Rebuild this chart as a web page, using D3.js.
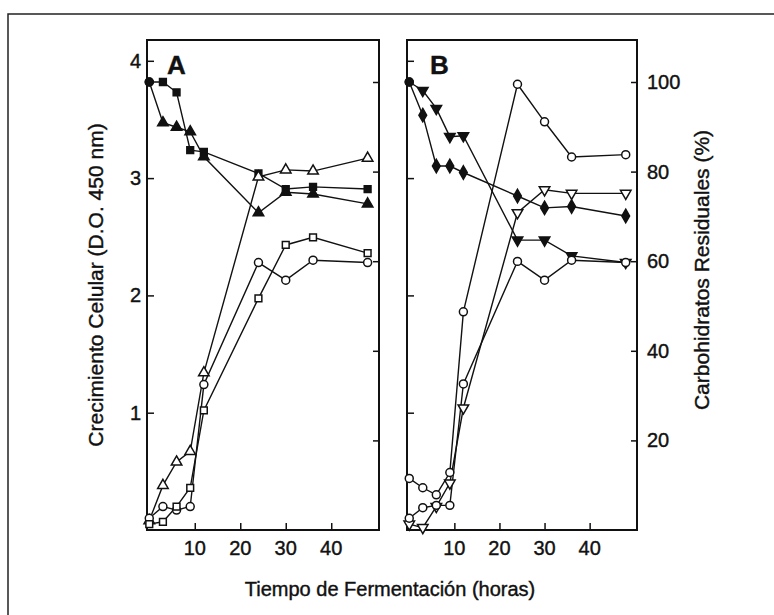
<!DOCTYPE html>
<meta charset="utf-8">
<style>
body { margin: 0; background: #fff; }
text { font-family: "Liberation Sans", Arial, sans-serif; fill: #111; stroke: #111; stroke-width: 0.4px; }
</style>
<body>
<script src="https://cdn.jsdelivr.net/npm/d3@7"></script>
<script>
var width = 774,
    height = 615;

// fermentation time (hours)
var hours = [0, 3, 6, 9, 12, 24, 30, 36, 48];

// panel A, residual carbohydrates (%), filled symbols
var aSquareFilled = [100, 100, 97.7, 84.8, 84.4, 79.6, 76.1, 76.6, 76.1];
var aTriFilled = [100, 90.9, 89.9, 88.9, 83.3, 70.8, 75.4, 75.0, 72.8];
// panel A, cell growth (OD 450 nm), open symbols
var aTriOpen = [0.08, 0.38, 0.58, 0.67, 1.34, 3.01, 3.07, 3.06, 3.17];
var aCircleOpen = [0.10, 0.20, 0.17, 0.20, 1.24, 2.28, 2.13, 2.30, 2.28];
var aSquareOpen = [0.05, 0.07, 0.20, 0.36, 1.02, 1.975, 2.43, 2.495, 2.36];

// panel B
var bTriDownFilled = [100, 98.1, 94.1, 87.8, 88.0, 64.7, 64.7, 61.2, 59.7];
var bDiamondFilled = [100, 92.6, 81.25, 81.25, 79.8, 74.55, 71.9, 72.2, 70.1];
var bCircleHigh = [0.44, 0.36, 0.30, 0.49, 1.86, 3.80, 3.48, 3.18, 3.20];
var bTriDownOpen = [0.05, 0.02, 0.20, 0.40, 1.04, 2.705, 2.90, 2.87, 2.87];
var bCircleLow = [0.10, 0.19, 0.21, 0.21, 1.245, 2.29, 2.13, 2.30, 2.28];

var odTicks = [1, 2, 3, 4];
var carbTicks = [20, 40, 60, 80, 100];
var timeTicks = [10, 20, 30, 40];

var plotTop = 40, plotBottom = 530;

var svg = d3.select("body").append("svg")
    .attr("width", width)
    .attr("height", height);

// outer frame
svg.append("path")
    .attr("d", "M8,615V14H774")
    .attr("fill", "none")
    .attr("stroke", "#222")
    .attr("stroke-width", 1.5);

var yOD = d3.scaleLinear().domain([0, 4]).range([plotBottom, plotBottom - 4 * 117.3]);
var yCarb = d3.scaleLinear().domain([0, 100]).range([plotBottom, plotBottom - 448]);

var panels = [
  { name: "A", x0: 147, x1: 379, series: [
    { v: aSquareFilled, y: yCarb, shape: "square", filled: true },
    { v: aTriFilled, y: yCarb, shape: "triangle", filled: true },
    { v: aTriOpen, y: yOD, shape: "triangle", filled: false },
    { v: aCircleOpen, y: yOD, shape: "circle", filled: false },
    { v: aSquareOpen, y: yOD, shape: "square", filled: false }
  ]},
  { name: "B", x0: 407, x1: 637, series: [
    { v: bTriDownFilled, y: yCarb, shape: "down", filled: true },
    { v: bDiamondFilled, y: yCarb, shape: "diamond", filled: true },
    { v: bCircleHigh, y: yOD, shape: "circle", filled: false },
    { v: bTriDownOpen, y: yOD, shape: "down", filled: false },
    { v: bCircleLow, y: yOD, shape: "circle", filled: false }
  ]}
];

var symbols = {
  circle: d3.symbol().type(d3.symbolCircle).size(50),
  square: d3.symbol().type(d3.symbolSquare).size(46),
  triangle: d3.symbol().type(d3.symbolTriangle).size(48),
  down: d3.symbol().type(d3.symbolTriangle).size(48),
  diamond: d3.symbol().type(d3.symbolDiamond).size(52)
};

panels.forEach(function(p) {
  var x = d3.scaleLinear().domain([-0.5, 50.5]).range([p.x0, p.x1]);
  var g = svg.append("g");

  // axes with inward ticks
  g.append("g")
      .attr("transform", "translate(0," + plotBottom + ")")
      .call(d3.axisTop(x).tickValues(timeTicks).tickSize(7).tickFormat(""))
      .call(function(s) { s.select(".domain").remove(); });
  g.append("g")
      .attr("transform", "translate(" + p.x0 + ",0)")
      .call(d3.axisRight(yOD).tickValues(odTicks).tickSize(7).tickFormat(""))
      .call(function(s) { s.select(".domain").remove(); });
  g.append("g")
      .attr("transform", "translate(" + p.x1 + ",0)")
      .call(d3.axisLeft(yCarb).tickValues(carbTicks).tickSize(6).tickFormat(""))
      .call(function(s) { s.select(".domain").remove(); });
  g.selectAll(".tick line").attr("stroke", "#111").attr("stroke-width", 1.5);

  g.append("rect")
      .attr("x", p.x0).attr("y", plotTop)
      .attr("width", p.x1 - p.x0).attr("height", plotBottom - plotTop)
      .attr("fill", "none").attr("stroke", "#111").attr("stroke-width", 2);

  // time tick labels
  g.selectAll(".tl").data(timeTicks).enter().append("text")
      .attr("x", function(d) { return x(d); })
      .attr("y", 555)
      .attr("text-anchor", "middle")
      .style("font-size", "20px")
      .text(function(d) { return d; });

  g.append("text")
      .attr("x", p.name == "A" ? 167 : 430)
      .attr("y", 74)
      .style("font-size", "26px")
      .style("font-weight", "bold")
      .text(p.name);

  p.series.forEach(function(s) {
    var line = d3.line()
        .x(function(d, i) { return x(hours[i]); })
        .y(function(d) { return s.y(d); });
    g.append("path")
        .datum(s.v)
        .attr("d", line)
        .attr("fill", "none")
        .attr("stroke", "#111")
        .attr("stroke-width", 1.4);
  });

  p.series.forEach(function(s) {
    g.selectAll(null).data(s.v).enter().append("path")
        .attr("transform", function(d, i) {
          var r = s.shape == "down" ? " rotate(180)" : "";
          return "translate(" + x(hours[i]) + "," + s.y(d) + ")" + r;
        })
        .attr("d", function(d, i) {
          if (s.filled && i == 0) return symbols.circle();
          return symbols[s.shape]();
        })
        .attr("fill", s.filled ? "#111" : "#fff")
        .attr("stroke", "#111")
        .attr("stroke-width", 1.5);
  });
});

// left axis labels
svg.selectAll(".odl").data(odTicks).enter().append("text")
    .attr("x", 141)
    .attr("y", function(d) { return yOD(d) + 7; })
    .attr("text-anchor", "end")
    .style("font-size", "20px")
    .text(function(d) { return d; });

// right axis labels
svg.selectAll(".cl").data(carbTicks).enter().append("text")
    .attr("x", 647)
    .attr("y", function(d) { return yCarb(d) + 7; })
    .style("font-size", "20px")
    .text(function(d) { return d; });

svg.append("text")
    .attr("transform", "translate(103,285) rotate(-90)")
    .attr("text-anchor", "middle")
    .style("font-size", "21px")
    .text("Crecimiento Celular (D.O. 450 nm)");

svg.append("text")
    .attr("transform", "translate(709,270) rotate(-90)")
    .attr("text-anchor", "middle")
    .style("font-size", "21px")
    .text("Carbohidratos Residuales (%)");

svg.append("text")
    .attr("x", 390)
    .attr("y", 596)
    .attr("text-anchor", "middle")
    .style("font-size", "20px")
    .text("Tiempo de Fermentación (horas)");
</script>
</body>
